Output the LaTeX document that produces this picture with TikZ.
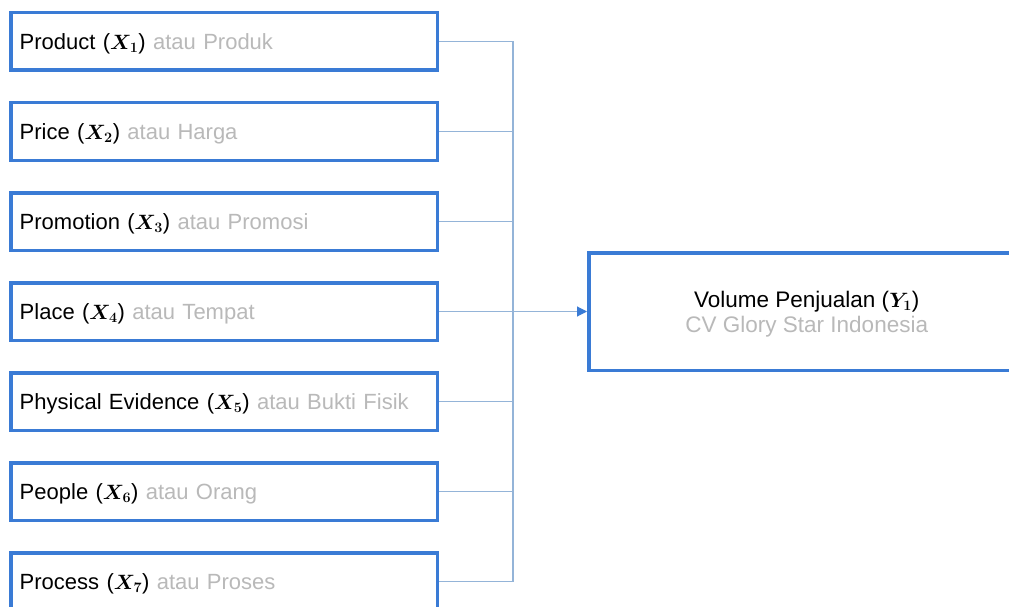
\documentclass[tikz,border=0pt]{standalone}
\usepackage{amsmath}
\usepackage{bm}
\usepackage{fontspec}
\setmainfont{Liberation Sans}
\usetikzlibrary{arrows.meta,calc}
\definecolor{boxblue}{HTML}{3A7BD5}
\definecolor{linkblue}{HTML}{94B4D8}
\definecolor{softgray}{HTML}{B9B9B9}
\tikzset{
  factor/.style={draw=boxblue, line width=3.5pt, minimum height=57.5pt,
    text width=408.5pt, inner sep=9pt, align=left, anchor=center,
    text depth=0pt, font=\fontsize{22}{26}\selectfont},
  outcome/.style={draw=boxblue, line width=3.5pt, minimum height=117.5pt,
    minimum width=436pt, align=center, text depth=0pt,
    font=\fontsize{22.5}{25}\selectfont},
  link/.style={draw=linkblue, line width=1.1pt},
  feed/.style={link, -{Triangle[length=10pt,width=10pt,fill=boxblue,color=boxblue]}},
}
\newcommand{\Xs}[1]{$\bm{X_{#1}}$}
\begin{document}
\begin{tikzpicture}[x=1pt,y=-1pt]
\useasboundingbox (0,0) rectangle (1009,607);
\clip (0,0) rectangle (1009,607);
\fill[white] (0,0) rectangle (1009,607);

% the seven marketing-mix factors
\node[factor] (b1) at (224,41.5)  {Product (\Xs{1}) \textcolor{softgray}{atau Produk}};
\node[factor] (b2) at (224,131.5) {Price (\Xs{2}) \textcolor{softgray}{atau Harga}};
\node[factor] (b3) at (224,221.5) {Promotion (\Xs{3}) \textcolor{softgray}{atau Promosi}};
\node[factor] (b4) at (224,311.5) {Place (\Xs{4}) \textcolor{softgray}{atau Tempat}};
\node[factor] (b5) at (224,401.5) {Physical Evidence (\Xs{5}) \textcolor{softgray}{atau Bukti Fisik}};
\node[factor] (b6) at (224,491.5) {People (\Xs{6}) \textcolor{softgray}{atau Orang}};
\node[factor] (b7) at (224,581.5) {Process (\Xs{7}) \textcolor{softgray}{atau Proses}};

% dependent variable
\node[outcome] (vol) at (806.75,311.5)
  {Volume Penjualan ($\bm{Y_1}$)\\\textcolor{softgray}{CV Glory Star Indonesia}};

% collecting bus
\coordinate (bus) at (513,311.5);
\foreach \b in {b1,b2,b3,b4,b5,b6,b7}
  \draw[link] (\b.east) -- (\b.east -| bus);
\draw[link] (b1.east -| bus) -- (b7.east -| bus);
\draw[feed] (bus) -- (vol.west);
\end{tikzpicture}
\end{document}
